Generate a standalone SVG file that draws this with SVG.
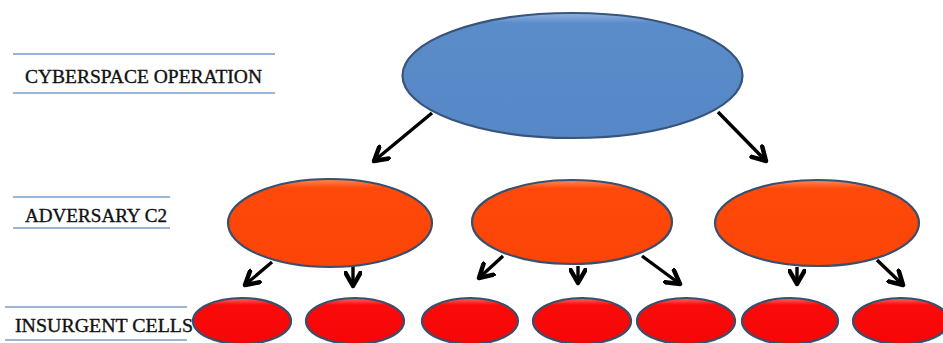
<svg xmlns="http://www.w3.org/2000/svg" width="943" height="343" viewBox="0 0 943 343">
<style>
.lbl{font-family:"Liberation Serif","Times New Roman",serif;font-size:18.5px;fill:#111;stroke:#111;stroke-width:0.35;}
.rule{stroke:#7a9cc8;stroke-width:1.3;}
.top{fill:url(#gBlue);stroke:#37557a;stroke-width:2.2;}
.mid{fill:url(#gOrange);stroke:#3a4f6c;stroke-width:2.2;}
.bot{fill:url(#gRed);stroke:#3a4f6c;stroke-width:2.2;}
.arr{stroke:#000;stroke-width:3.4;fill:none;marker-end:url(#ah);}
</style>
<defs>
<linearGradient id="gBlue" x1="0" y1="0" x2="0" y2="1">
<stop offset="0" stop-color="#8fb4e3"/><stop offset="0.08" stop-color="#5b8cca"/><stop offset="1" stop-color="#5687c6"/>
</linearGradient>
<linearGradient id="gOrange" x1="0" y1="0" x2="0" y2="1">
<stop offset="0" stop-color="#ff8a5a"/><stop offset="0.1" stop-color="#ff4a0c"/><stop offset="1" stop-color="#fb4406"/>
</linearGradient>
<linearGradient id="gRed" x1="0" y1="0" x2="0" y2="1">
<stop offset="0" stop-color="#ff6a6a"/><stop offset="0.15" stop-color="#fb0a0a"/><stop offset="1" stop-color="#f60606"/>
</linearGradient>
<marker id="ah" viewBox="0 0 10 10" refX="8" refY="5" markerWidth="5.5" markerHeight="5.5" orient="auto" markerUnits="strokeWidth">
<polyline points="1,1 8,5 1,9" fill="none" stroke="#000" stroke-width="2.4" stroke-linecap="round" stroke-linejoin="round"/>
</marker>
</defs>

<g id="label-cyberspace">
<line class="rule" x1="13" y1="54" x2="275" y2="54"/>
<line class="rule" x1="13" y1="93" x2="275" y2="93"/>
<text class="lbl" x="25" y="83" textLength="237" lengthAdjust="spacingAndGlyphs">CYBERSPACE OPERATION</text>
</g>
<g id="label-adversary">
<line class="rule" x1="13" y1="197" x2="170" y2="197"/>
<line class="rule" x1="13" y1="228" x2="170" y2="228"/>
<text class="lbl" x="25" y="222" textLength="142" lengthAdjust="spacingAndGlyphs">ADVERSARY C2</text>
</g>
<g id="label-insurgent">
<line class="rule" x1="5" y1="307" x2="187" y2="307"/>
<line class="rule" x1="5" y1="340" x2="187" y2="340"/>
<text class="lbl" x="15" y="332" textLength="178" lengthAdjust="spacingAndGlyphs">INSURGENT CELLS</text>
</g>

<g id="connectors">
<line class="arr" x1="432" y1="113" x2="374" y2="161"/>
<line class="arr" x1="718" y1="112" x2="766" y2="161"/>
<line class="arr" x1="272" y1="262" x2="245" y2="285"/>
<line class="arr" x1="353" y1="266" x2="353" y2="286"/>
<line class="arr" x1="503" y1="256" x2="479" y2="278"/>
<line class="arr" x1="578" y1="266" x2="578" y2="283"/>
<line class="arr" x1="642" y1="256" x2="680" y2="284"/>
<line class="arr" x1="797" y1="267" x2="797" y2="284"/>
<line class="arr" x1="877" y1="260" x2="903" y2="285"/>
</g>

<g id="node-cyberspace"><ellipse class="top" cx="572.5" cy="75.5" rx="170" ry="62.5"/></g>
<g id="node-c2-1"><ellipse class="mid" cx="330" cy="223" rx="102" ry="44"/></g>
<g id="node-c2-2"><ellipse class="mid" cx="572" cy="222" rx="100" ry="42"/></g>
<g id="node-c2-3"><ellipse class="mid" cx="817" cy="223" rx="102" ry="43"/></g>
<g id="node-cell-1"><ellipse class="bot" cx="242" cy="321" rx="49" ry="23"/></g>
<g id="node-cell-2"><ellipse class="bot" cx="355" cy="321" rx="49" ry="23"/></g>
<g id="node-cell-3"><ellipse class="bot" cx="470" cy="321" rx="48" ry="23"/></g>
<g id="node-cell-4"><ellipse class="bot" cx="582" cy="321" rx="49" ry="23"/></g>
<g id="node-cell-5"><ellipse class="bot" cx="686" cy="321" rx="49" ry="23"/></g>
<g id="node-cell-6"><ellipse class="bot" cx="790" cy="321" rx="48" ry="23"/></g>
<g id="node-cell-7"><ellipse class="bot" cx="901" cy="321" rx="48" ry="23"/></g>
</svg>
